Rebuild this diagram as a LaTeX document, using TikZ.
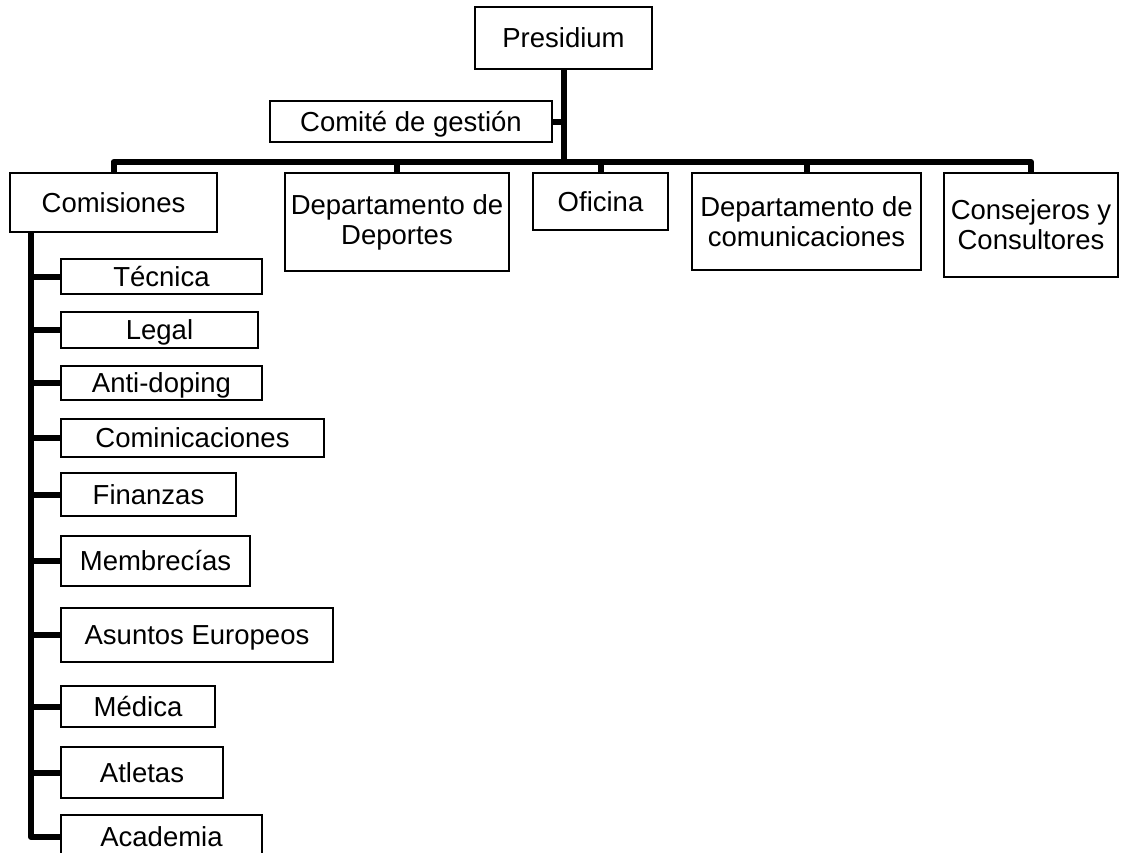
\documentclass[tikz,border=0pt]{standalone}
\usepackage{fontspec}
\setmainfont{Liberation Sans}
\begin{document}
\begin{tikzpicture}[x=1pt,y=-1pt,
  box/.style={draw, line width=2pt, inner sep=0pt, align=center, fill=white,
    font=\fontsize{27.5}{30}\selectfont},
  one/.style={text height=19.7pt, text depth=0pt},
  link/.style={line width=6pt, line join=round}]
\useasboundingbox[fill=white] (0,0) rectangle (1121,852);

% top level
\node[box, one, minimum width=177, minimum height=62] (pres) at (563.5,38) {Presidium};
\node[box, one, minimum width=282, minimum height=41] (cg) at (411,121.5) {Comité de gestión};

% second level
\node[box, one, minimum width=207, minimum height=59] (com) at (113.5,202.5) {Comisiones};
\node[box, minimum width=224, minimum height=98] (dep) at (397,222) {Departamento de\\Deportes};
\node[box, one, minimum width=135, minimum height=57] (ofi) at (600.5,201.5) {Oficina};
\node[box, minimum width=229, minimum height=97] (dco) at (806.5,221.5) {Departamento de\\comunicaciones};
\node[box, minimum width=174, minimum height=104] (con) at (1031,225) {Consejeros y\\Consultores};

% commissions
\node[box, one, minimum width=201, minimum height=35] (tec) at (161.5,276.5) {Técnica};
\node[box, one, minimum width=197, minimum height=36] (leg) at (159.5,330) {Legal};
\node[box, one, minimum width=201, minimum height=34] (ant) at (161.5,383) {Anti-doping};
\node[box, one, minimum width=263, minimum height=38] (cmi) at (192.5,438) {Cominicaciones};
\node[box, one, minimum width=175, minimum height=43] (fin) at (148.5,494.5) {Finanzas};
\node[box, one, minimum width=189, minimum height=50] (mem) at (155.5,561) {Membrecías};
\node[box, one, minimum width=272, minimum height=54] (asu) at (197,635) {Asuntos Europeos};
\node[box, one, minimum width=154, minimum height=41] (med) at (138,706.5) {Médica};
\node[box, one, minimum width=162, minimum height=51] (atl) at (142,772.5) {Atletas};
\node[box, one, minimum width=201, minimum height=44] (aca) at (161.5,837) {Academia};

% connectors
\coordinate (bar) at (0,162);
\coordinate (tk) at (31,232);
\draw[link] (pres.south) -- (pres.south |- bar);
\draw[link] (cg.east) -- (cg.east -| pres.south);
\draw[link] (com.north) -- (com.north |- bar) -- (con.north |- bar) -- (con.north);
\draw[link] (dep.north |- bar) -- (dep.north);
\draw[link] (ofi.north |- bar) -- (ofi.north);
\draw[link] (dco.north |- bar) -- (dco.north);
\draw[link] (tk) |- (aca.west);
\foreach \n in {tec,leg,ant,cmi,fin,mem,asu,med,atl}
  \draw[link] (tk |- \n.west) -- (\n.west);
\end{tikzpicture}
\end{document}
